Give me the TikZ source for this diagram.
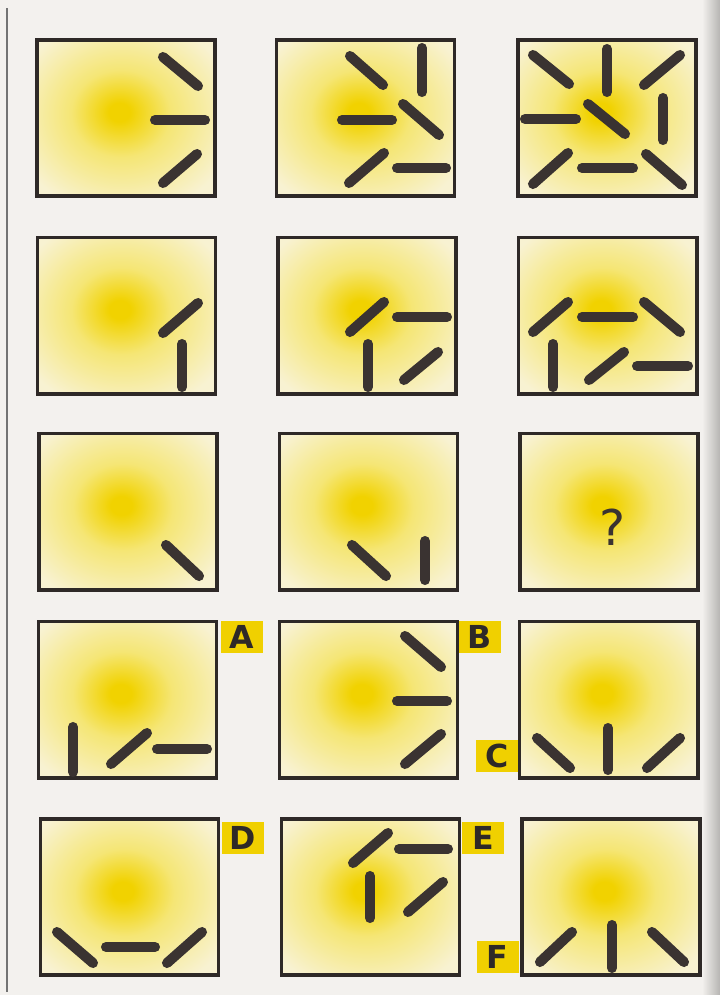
\documentclass[tikz,border=0pt]{standalone}
\usepackage{fontspec}
\setmainfont{Liberation Sans}
\newfontfamily\qfont{DejaVu Sans}
\newfontfamily\tagfont{DejaVu Sans}
\usepackage{xcolor}
\usetikzlibrary{positioning}

\definecolor{paper}{HTML}{F3F1EE}
\definecolor{frame}{HTML}{2E2927}
\definecolor{ink}{HTML}{3A3331}
\definecolor{tagfill}{HTML}{F0D000}
\definecolor{glowin}{HTML}{F1D200}
\definecolor{glowmid}{HTML}{F5E675}
\definecolor{glowout}{HTML}{F8F2D2}
\pgfdeclareradialshading{glow}{\pgfpoint{-2bp}{2bp}}{color(0bp)=(glowin);color(3bp)=(glowin);color(14bp)=(glowmid);color(32bp)=(glowout);color(50bp)=(glowout)}

\begin{document}
\begin{tikzpicture}[
    x=0.03cm, y=-0.03cm,
    panel/.style={rectangle, draw=frame, line width=3.4pt, shading=glow, minimum width=5.34cm, minimum height=4.68cm, inner sep=0pt},
    bar/.style={draw=ink, line width=8.6pt, line cap=round},
    tag/.style={rectangle, fill=tagfill, minimum width=1.26cm, minimum height=0.96cm, inner sep=0pt, text=frame, font=\tagfont\fontsize{27}{27}\selectfont\bfseries}
]
\fill[paper] (0,0) rectangle (720,995);
\useasboundingbox (0,0) rectangle (720,995);
\shade[left color=paper, right color=paper!75!black] (702,0) rectangle (720,995);
\draw[line width=1.2pt, draw=black!55] (7,8) -- (7,992);

\node[panel] (p11) at (126,118) {};
\node[panel] (p12) at (365.5,118) {};
\node[panel] (p13) at (607,118) {};
\node[panel] (p21) at (126.5,315.5) {};
\node[panel] (p22) at (367,315.5) {};
\node[panel] (p23) at (607.5,315.5) {};
\node[panel] (p31) at (128,511.5) {};
\node[panel] (p32) at (368.5,511.5) {};
\node[panel] (p33) at (609,511.5) {};
\node[panel] (pa) at (127.5,699.5) {};
\node[panel] (pb) at (368.5,699.5) {};
\node[panel] (pc) at (608.5,699.5) {};
\node[panel] (pd) at (129.5,897) {};
\node[panel] (pe) at (370.5,897) {};
\node[panel] (pf) at (611,897) {};

\node[tag] (ta) at (241.5,636.5) {A};
\node[tag] (tb) at (480,637) {B};
\node[tag] (tc) at (497,755.5) {C};
\node[tag] (td) at (242.5,837.5) {D};
\node[tag] (te) at (483,837.5) {E};
\node[tag] (tf) at (497.5,956.5) {F};

\node[text=ink, font=\qfont\fontsize{42}{42}\selectfont] (ask) at (613,527) {?};

\draw[bar] (163,57) -- (198,86);
\draw[bar] (155,120) -- (205,120);
\draw[bar] (197,154) -- (163,183);

\draw[bar] (350,56) -- (383,85);
\draw[bar] (422,48) -- (422,92);
\draw[bar] (342,120) -- (392,120);
\draw[bar] (403,104) -- (439,135);
\draw[bar] (384,153) -- (349,183);
\draw[bar] (397,168) -- (446,168);

\draw[bar] (533,55) -- (569,84);
\draw[bar] (607,49) -- (607,92);
\draw[bar] (680,55) -- (644,85);
\draw[bar] (588,104) -- (625,134);
\draw[bar] (663,98) -- (663,140);
\draw[bar] (525,119) -- (576,119);
\draw[bar] (568,153) -- (533,184);
\draw[bar] (582,168) -- (633,168);
\draw[bar] (646,154) -- (682,185);

\draw[bar] (198,303) -- (163,333);
\draw[bar] (182,344) -- (182,387);

\draw[bar] (384,302) -- (350,332);
\draw[bar] (397,317) -- (447,317);
\draw[bar] (368,344) -- (368,387);
\draw[bar] (438,352) -- (404,380);

\draw[bar] (568,302) -- (533,332);
\draw[bar] (582,317) -- (633,317);
\draw[bar] (644,302) -- (680,332);
\draw[bar] (553,344) -- (553,387);
\draw[bar] (624,352) -- (589,380);
\draw[bar] (637,366) -- (688,366);

\draw[bar] (166,545) -- (199,576);

\draw[bar] (352,545) -- (386,576);
\draw[bar] (425,541) -- (425,580);

\draw[bar] (73,727) -- (73,772);
\draw[bar] (147,733) -- (111,764);
\draw[bar] (157,749) -- (207,749);

\draw[bar] (405,636) -- (441,667);
\draw[bar] (397,701) -- (447,701);
\draw[bar] (441,734) -- (405,764);

\draw[bar] (537,738) -- (570,768);
\draw[bar] (608,728) -- (608,770);
\draw[bar] (680,738) -- (647,768);

\draw[bar] (57,932) -- (93,963);
\draw[bar] (106,947) -- (155,947);
\draw[bar] (202,932) -- (167,963);

\draw[bar] (388,833) -- (353,863);
\draw[bar] (399,849) -- (448,849);
\draw[bar] (370,876) -- (370,918);
\draw[bar] (443,882) -- (408,912);

\draw[bar] (572,932) -- (540,962);
\draw[bar] (612,925) -- (612,968);
\draw[bar] (652,932) -- (684,962);
\end{tikzpicture}
\end{document}
